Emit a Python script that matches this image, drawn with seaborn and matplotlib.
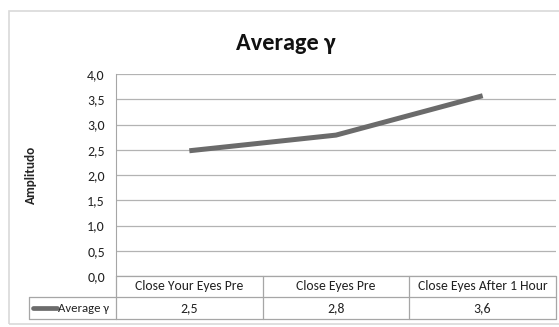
import matplotlib
matplotlib.use("Agg")
import matplotlib.pyplot as plt
import matplotlib.transforms as mtransforms
from matplotlib.lines import Line2D
from matplotlib.patches import Rectangle
import seaborn as sns
import pandas as pd

# data
categories = ["Close Your Eyes Pre", "Close Eyes Pre", "Close Eyes After 1 Hour"]
series_name = "Average γ"
values = [2.48, 2.79, 3.57]
y_ticks = [0.0, 0.5, 1.0, 1.5, 2.0, 2.5, 3.0, 3.5, 4.0]

df = pd.DataFrame({"pos": range(len(categories)), "value": values})

sns.set_theme(style="white")
plt.rcParams["font.family"] = ["Carlito", "DejaVu Sans"]

W, H = 559, 327
fig = plt.figure(figsize=(W / 100, H / 100), dpi=100)
fig.patch.set_facecolor("white")

def fx(px):
    return px / W

def fy(py):
    return 1 - py / H

# outer chart frame
fig.patches.append(Rectangle((fx(9), fy(324)), fx(600) - fx(9), fy(11) - fy(324),
                             transform=fig.transFigure, fill=False,
                             edgecolor="#d9d9d9", linewidth=1.2))

left, right, top, bottom = 116, 556, 74, 276
ax = fig.add_axes([fx(left), fy(bottom), fx(right) - fx(left), fy(top) - fy(bottom)])

line_color = "#6b6b6b"
sns.lineplot(data=df, x="pos", y="value", ax=ax, color=line_color,
             linewidth=3.6, solid_capstyle="butt", legend=False)

ax.set_xlim(-0.5, len(categories) - 0.5)
ax.set_ylim(0, 4.0)
ax.set_yticks(y_ticks)
ax.set_yticklabels([f"{v:.1f}".replace(".", ",") for v in y_ticks], fontsize=10, color="#222222")
ax.set_xticks([])
ax.set_xlabel("")
ax.set_ylabel("Amplitudo", fontsize=9.5, fontweight="bold", labelpad=36)
ax.tick_params(axis="y", length=0, pad=8, left=False)
ax.grid(axis="y", color="#b3b3b3", linewidth=0.9)
ax.set_axisbelow(True)
for s in ["top", "right", "bottom"]:
    ax.spines[s].set_visible(False)
ax.spines["left"].set_color("#a6a6a6")
ax.spines["left"].set_linewidth(0.8)

fig.text(fx(286), fy(43), "Average γ", ha="center", va="center",
         fontsize=17.5, fontweight="bold", color="#111111")

# data table under the plot
grid_c = "#a6a6a6"
trans = mtransforms.blended_transform_factory(ax.transData, fig.transFigure)
col_edges = [-0.5, 0.5, 1.5, 2.5]
row_y = [276, 297, 319]
tbl_left = 29

def hline(x0, x1, y, tr):
    fig.lines.append(Line2D([x0, x1], [fy(y), fy(y)], transform=tr, color=grid_c, linewidth=0.9))

def vline(x, y0, y1, tr):
    fig.lines.append(Line2D([x, x], [fy(y0), fy(y1)], transform=tr, color=grid_c, linewidth=0.9))

hline(col_edges[0], col_edges[-1], row_y[0], trans)
hline(col_edges[0], col_edges[-1], row_y[2], trans)
hline(fx(tbl_left), fx(left), row_y[1], fig.transFigure)
hline(fx(tbl_left), fx(left), row_y[2], fig.transFigure)
hline(col_edges[0], col_edges[-1], row_y[1], trans)
for x in col_edges:
    vline(x, row_y[0], row_y[2], trans)
vline(fx(tbl_left), row_y[1], row_y[2], fig.transFigure)

ymid_head = fy((row_y[0] + row_y[1]) / 2)
ymid_data = fy((row_y[1] + row_y[2]) / 2)
for i, (cat, v) in enumerate(zip(categories, values)):
    fig.text(i, ymid_head, cat, transform=trans, ha="center", va="center",
             fontsize=9.8, color="#222222")
    fig.text(i, ymid_data, f"{v:.1f}".replace(".", ","), transform=trans,
             ha="center", va="center", fontsize=10, color="#222222")

# legend key in the table row
fig.lines.append(Line2D([fx(33), fx(57)], [ymid_data, ymid_data], transform=fig.transFigure,
                        color=line_color, linewidth=3.4, solid_capstyle="round"))
fig.text(fx(58), ymid_data, series_name, ha="left", va="center",
         fontsize=9.2, color="#222222")

fig.savefig("out.png", dpi=100, facecolor="white")
